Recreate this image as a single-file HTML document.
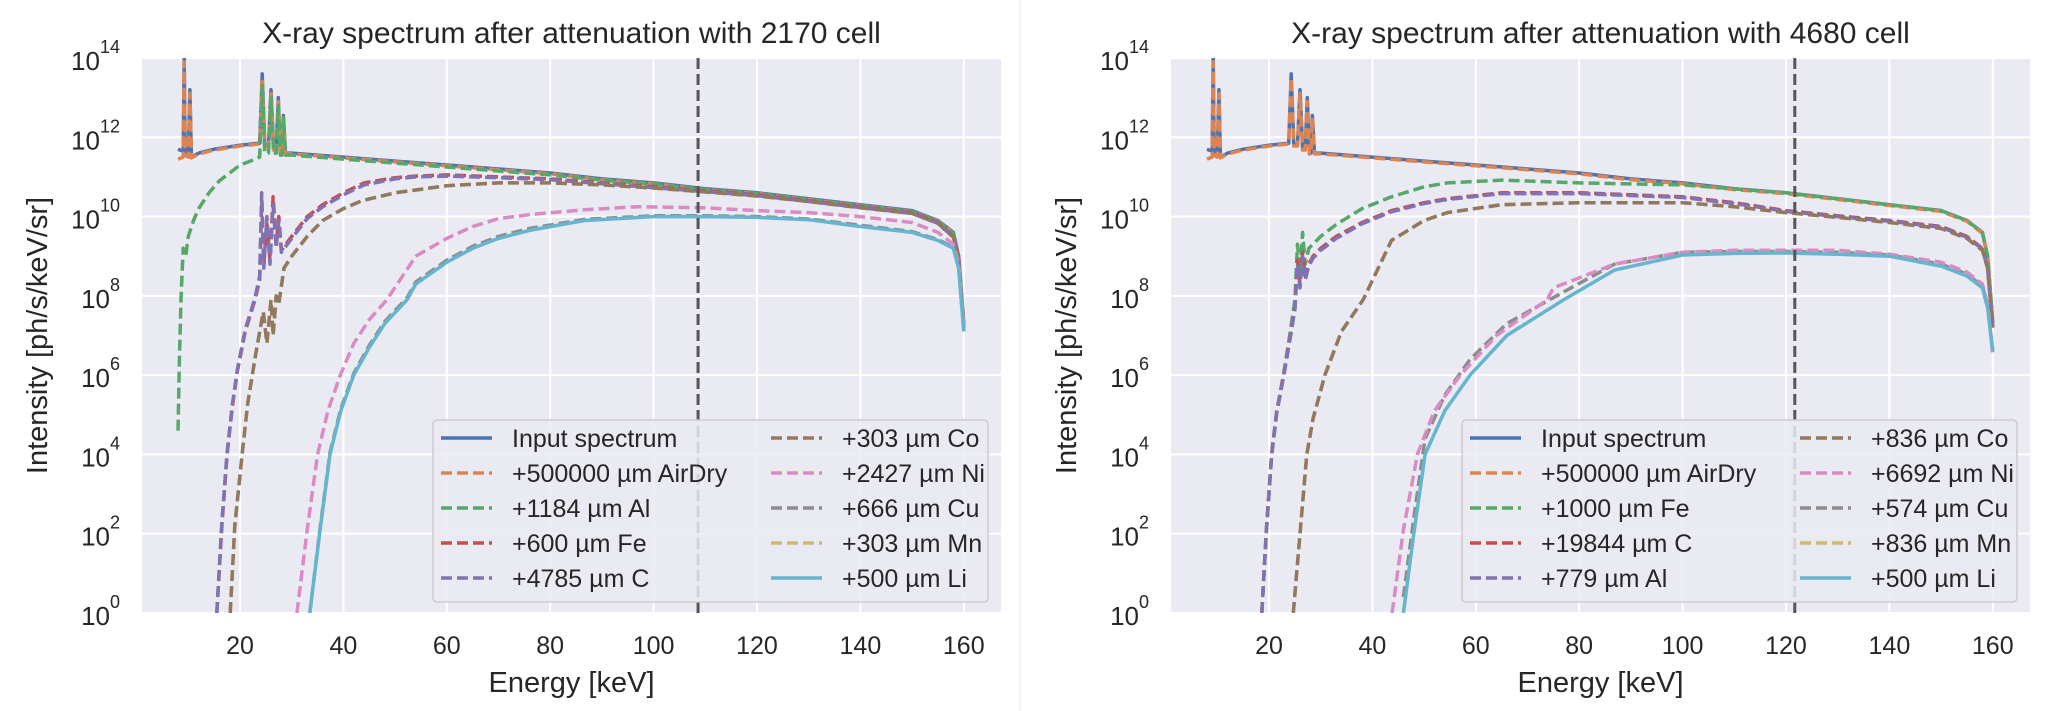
<!DOCTYPE html>
<html><head><meta charset="utf-8">
<style>
html,body{margin:0;padding:0;background:#fff;}
svg{display:block;font-family:"Liberation Sans",Arial,sans-serif;}
</style></head>
<body>
<svg id="chart" width="2055" height="711" viewBox="0 0 2055 711" xmlns="http://www.w3.org/2000/svg">
<line x1="1020" y1="0" x2="1020" y2="711" stroke="#f0f0f0" stroke-width="2"/>
</svg>
<script>
// ---------- shared data ----------
const yTickExps = [0, 2, 4, 6, 8, 10, 12, 14];
const xTicks = [20, 40, 60, 80, 100, 120, 140, 160];

// Input spectrum (log10 intensity)
const inputE = [8,9,9.2,9.4,10,10.3,10.6,12,15,20,23.8,24.3,24.8,25.5,26,26.5,27,27.4,27.8,28.1,28.4,28.8,30,35,40,50,60,70,80,90,100,110,120,130,140,150,155,158,159,160];
const inputV = [11.7,11.65,14.0,11.6,11.55,13.2,11.5,11.6,11.7,11.8,11.85,13.6,11.8,11.8,13.2,11.7,11.7,13.0,11.6,11.6,12.55,11.6,11.6,11.55,11.5,11.4,11.3,11.2,11.1,10.95,10.85,10.7,10.6,10.45,10.3,10.15,9.9,9.6,9.0,7.3];
const airV = [11.45,11.5,13.9,11.55,11.5,13.1,11.48,11.58,11.68,11.78,11.83,13.5,11.78,11.78,13.1,11.68,11.68,12.9,11.58,11.58,12.5,11.58,11.58,11.53,11.48,11.38,11.28,11.18,11.08,10.93,10.83,10.68,10.58,10.43,10.28,10.13,9.88,9.58,9.0,7.3];

// ---------- left panel (2170 cell) ----------
const L_alE = [8,8.3,8.6,9,9.5,10,11,12,14,16,18,20,22,23.8,24.3,24.8,25.5,26,26.5,27,27.4,27.8,28.1,28.4,28.8,30,35,40,50,60,70,80,90,100,110,120,130,140,150,155,158,159,160];
const L_alV = [4.6,6.5,8.0,9.2,9.0,9.5,9.9,10.2,10.6,10.9,11.1,11.3,11.4,11.5,13.3,11.6,11.6,13.0,11.6,11.6,12.8,11.55,11.55,12.5,11.55,11.55,11.5,11.45,11.35,11.25,11.15,11.05,10.92,10.82,10.68,10.58,10.43,10.28,10.13,9.88,9.58,9.0,7.3];
const L_feE = [15.5,16.5,17.5,18.5,19.5,21,22.9,23.8,24.2,24.6,25.2,25.8,26.4,27,27.5,28,30,33,36,40,44,50,54,60,70,80,90,100,110,120,130,140,150,155,158,159,160];
const L_feV = [0,2.2,4,5.2,6.1,7.1,7.9,8.4,10.4,8.8,9.8,8.9,10.5,9.3,10.0,9.15,9.5,10.0,10.3,10.6,10.85,10.98,11.02,11.05,11.0,10.95,10.85,10.75,10.65,10.55,10.4,10.25,10.1,9.85,9.5,9.0,7.2];
const L_cV = [0,2.3,4.05,5.25,6.15,7.15,7.95,8.5,10.6,8.7,10.0,8.8,10.3,9.2,9.9,9.1,9.45,9.95,10.25,10.55,10.8,10.95,11.0,11.02,10.98,10.93,10.83,10.73,10.63,10.53,10.38,10.23,10.08,9.83,9.48,9.0,7.2];
const L_coE = [18.1,19,20.4,21.5,23,24.5,25.2,26,26.4,27,27.5,28.5,30,33,36,40,43.6,50,54,60,70,80,90,100,110,120,130,140,150,155,158,159,160];
const L_coV = [0,2.2,4,5.3,6.5,7.6,6.8,7.9,7.0,8.0,7.8,8.7,9.0,9.5,9.9,10.2,10.4,10.6,10.67,10.78,10.85,10.85,10.8,10.72,10.62,10.52,10.38,10.22,10.08,9.83,9.48,9.0,7.2];
const L_mnV = [0,2.2,4,5.3,6.5,7.6,6.8,7.9,7.0,8.0,7.8,8.7,9.0,9.5,9.9,10.2,10.4,10.6,10.67,10.78,10.85,10.85,10.8,10.72,10.62,10.52,10.38,10.22,10.08,9.83,9.48,9.0,7.2];
const L_niE = [31,33,35,37,39.4,42,45,48.4,54,60,65,70,76,86.6,97,110,120,130,140,150,155,158,159,160];
const L_niV = [0,2.1,4,5.1,6,6.8,7.4,7.9,9.0,9.45,9.75,9.95,10.05,10.17,10.25,10.22,10.15,10.1,10.0,9.85,9.6,9.3,8.8,7.2];
const L_liE = [33.5,35.5,37.4,39.5,42,45,48,52.3,54,60,65,70,76,86.6,100,110,120,130,140,150,155,158,159,160];
const L_liV = [0,2.1,4,5.1,6,6.7,7.3,7.9,8.3,8.85,9.2,9.45,9.65,9.9,10.0,10.0,9.98,9.92,9.75,9.6,9.4,9.2,8.7,7.1];
const L_cuV = [0,2.15,4.05,5.15,6.05,6.75,7.35,7.95,8.35,8.9,9.25,9.5,9.7,9.93,10.02,10.02,10.0,9.94,9.78,9.62,9.42,9.22,8.72,7.12];
const L_vline = 108.6;
const L_labels = ["Input spectrum","+500000 µm AirDry","+1184 µm Al","+600 µm Fe","+4785 µm C","+303 µm Co","+2427 µm Ni","+666 µm Cu","+303 µm Mn","+500 µm Li"];

// ---------- right panel (4680 cell) ----------
const R_feE = [18.6,19.5,20.5,21.5,22.8,24,25,25.5,26,26.5,27,27.7,28.5,30,33,38,43.7,50,54.5,65,80,100,110,120,130,140,150,155,158,159,160];
const R_feV = [0,2.1,4,5.1,6,7.0,7.9,9.3,8.6,9.6,8.8,9.2,9.3,9.5,9.8,10.2,10.5,10.75,10.85,10.92,10.85,10.8,10.7,10.6,10.45,10.3,10.15,9.9,9.6,9.0,7.3];
const R_cV = [0,2.1,4,5.1,6,6.9,7.7,8.9,8.3,9.1,8.5,8.8,9.0,9.2,9.5,9.85,10.15,10.35,10.45,10.6,10.6,10.5,10.35,10.15,10.02,9.9,9.75,9.5,9.2,8.7,7.2];
const R_alV = [0,2.05,3.95,5.05,5.95,6.85,7.65,8.8,8.2,9.0,8.4,8.75,8.95,9.15,9.45,9.82,10.12,10.33,10.43,10.58,10.58,10.48,10.33,10.13,10.0,9.88,9.73,9.48,9.18,8.7,7.2];
const R_coE = [24.7,26,27.3,28.5,30.8,34,38.2,43.7,50,54.5,65,80,100,110,120,130,140,150,155,158,159,160];
const R_coV = [0,2,4,4.9,6,7.1,7.9,9.4,9.9,10.1,10.3,10.35,10.35,10.25,10.1,9.98,9.85,9.7,9.45,9.15,8.7,7.2];
const R_mnV = [0,2,4,4.9,6,7.1,7.9,9.4,9.9,10.1,10.3,10.35,10.35,10.25,10.1,9.98,9.85,9.7,9.45,9.15,8.7,7.2];
const R_niE = [43.8,46,48.7,52,57,64,73.8,75,86.8,100,110,120,130,140,150,155,158,159,160];
const R_niV = [0,2.1,4,5.1,6,7.0,7.9,8.2,8.8,9.1,9.15,9.15,9.15,9.05,8.85,8.6,8.3,7.8,6.5];
const R_liE = [46,48,50.2,54,58.9,66,77,86.8,100,110,120,130,140,150,155,158,159,160];
const R_liV = [0,2,4,5.1,6,7.0,7.9,8.65,9.03,9.07,9.08,9.05,9.0,8.75,8.5,8.2,7.7,6.6];
const R_cuV = [0.4,2.4,4.4,5.5,6.4,7.3,8.1,8.8,9.1,9.12,9.12,9.1,9.03,8.8,8.55,8.25,7.75,6.6];
const R_vline = 121.7;
const R_labels = ["Input spectrum","+500000 µm AirDry","+1000 µm Fe","+19844 µm C","+779 µm Al","+836 µm Co","+6692 µm Ni","+574 µm Cu","+836 µm Mn","+500 µm Li"];

const colors = ["#4c72b0","#dd8452","#55a868","#c44e52","#8172b3","#937860","#da8bc3","#8c8c8c","#ccb974","#64b5cd"];
const solid = [true,false,false,false,false,false,false,false,false,true];
const drawOrder = [8,7,0,1,2,3,4,5,6,9];

const NS = "http://www.w3.org/2000/svg";
const svg = document.getElementById("chart");
function mk(tag, attrs, parent){ const e=document.createElementNS(NS,tag); for(const k in attrs) e.setAttribute(k,attrs[k]); (parent||svg).appendChild(e); return e; }

const AX = {left:142, right:1001, top:58, bottom:613, xmin:1.04, xmax:167.2, ymin:0, ymax:14};

function drawPanel(off, idx, title, series, vline, labels){
  const L=AX.left+off, R=AX.right+off;
  const xs = e => L + (e-AX.xmin)/(AX.xmax-AX.xmin)*(R-L);
  const ys = v => AX.bottom - (v-AX.ymin)/(AX.ymax-AX.ymin)*(AX.bottom-AX.top);
  const g = mk("g",{});
  
  
  const bg = mk("rect",{x:L,y:AX.top,width:R-L,height:AX.bottom-AX.top,fill:"#eaeaf2"},g);
  
  
  const cp = mk("clipPath",{id:"clip"+idx},g);
  mk("rect",{x:L,y:AX.top,width:R-L,height:AX.bottom-AX.top},cp);
  yTickExps.forEach(ex=>{
    const y=ys(ex);
    const gl = mk("line",{x1:L,x2:R,y1:y,y2:y,stroke:"#fff","stroke-width":2},g);
    
    
    const t = mk("text",{x:L-22,y:y+12,"text-anchor":"end","font-size":26,fill:"#262626"},g);
    
    
    t.textContent="10";
    const s = mk("tspan",{dy:-17,"font-size":18},t);
    s.textContent=String(ex);
  });
  xTicks.forEach(v=>{
    const x=xs(v);
    const gl = mk("line",{x1:x,x2:x,y1:AX.top,y2:AX.bottom,stroke:"#fff","stroke-width":2},g);
    
    
    const t = mk("text",{x:x,y:654,"text-anchor":"middle","font-size":25,fill:"#262626"},g);
    
    
    t.textContent=String(v);
  });
  const sg = mk("g",{"clip-path":"url(#clip"+idx+")"},g);
  drawOrder.forEach(i=>{
    const s = series[i];
    let d="";
    s.E.forEach((e,k)=>{ d += (k?"L":"M")+xs(e).toFixed(1)+","+ys(s.V[k]).toFixed(1); });
    const p = mk("path",{d:d,fill:"none",stroke:colors[i],"stroke-width":3.5,"stroke-linejoin":"round"},sg);
    if(!solid[i]) p.setAttribute("stroke-dasharray","11 5");
    
    
  });
  const vl = mk("line",{x1:xs(vline),x2:xs(vline),y1:AX.top,y2:AX.bottom,stroke:"#555","stroke-width":3,"stroke-dasharray":"11 5"},g);
  
  
  const lx=433+off, ly=420;
  const lg = mk("g",{},g);
  
  
  mk("rect",{x:lx,y:ly,width:555,height:182,rx:4,fill:"#eaeaf2","fill-opacity":0.85,stroke:"#cccccc","stroke-width":1.5},lg);
  labels.forEach((lab,i)=>{
    const col=Math.floor(i/5), row=i%5;
    const hx = lx + 8 + col*330, yy = ly + 18 + row*35;
    const h = mk("line",{x1:hx,x2:hx+51,y1:yy,y2:yy,stroke:colors[i],"stroke-width":3.5},lg);
    if(!solid[i]) h.setAttribute("stroke-dasharray","11 5");
    
    
    const t = mk("text",{x:hx+71,y:yy+9,"font-size":25,fill:"#262626"},lg);
    
    
    t.textContent=lab;
  });
  const cx=(L+R)/2;
  const tt = mk("text",{x:cx,y:43,"text-anchor":"middle","font-size":30,fill:"#262626"},g);
  
  
  tt.textContent=title;
  const xl = mk("text",{x:cx,y:692,"text-anchor":"middle","font-size":29,fill:"#262626"},g);
  
  
  xl.textContent="Energy [keV]";
  const yl = mk("text",{x:0,y:0,"text-anchor":"middle","font-size":29,fill:"#262626",transform:"translate("+(47+off)+","+((AX.top+AX.bottom)/2)+") rotate(-90)"},g);
  
  
  yl.textContent="Intensity [ph/s/keV/sr]";
}

drawPanel(0, 1, "X-ray spectrum after attenuation with 2170 cell", [
  {E:inputE,V:inputV},{E:inputE,V:airV},{E:L_alE,V:L_alV},{E:L_feE,V:L_feV},{E:L_feE,V:L_cV},
  {E:L_coE,V:L_coV},{E:L_niE,V:L_niV},{E:L_liE,V:L_cuV},{E:L_coE,V:L_mnV},{E:L_liE,V:L_liV}
], L_vline, L_labels);

drawPanel(1029, 2, "X-ray spectrum after attenuation with 4680 cell", [
  {E:inputE,V:inputV},{E:inputE,V:airV},{E:R_feE,V:R_feV},{E:R_feE,V:R_cV},{E:R_feE,V:R_alV},
  {E:R_coE,V:R_coV},{E:R_niE,V:R_niV},{E:R_liE,V:R_cuV},{E:R_coE,V:R_mnV},{E:R_liE,V:R_liV}
], R_vline, R_labels);
</script>
</body></html>
